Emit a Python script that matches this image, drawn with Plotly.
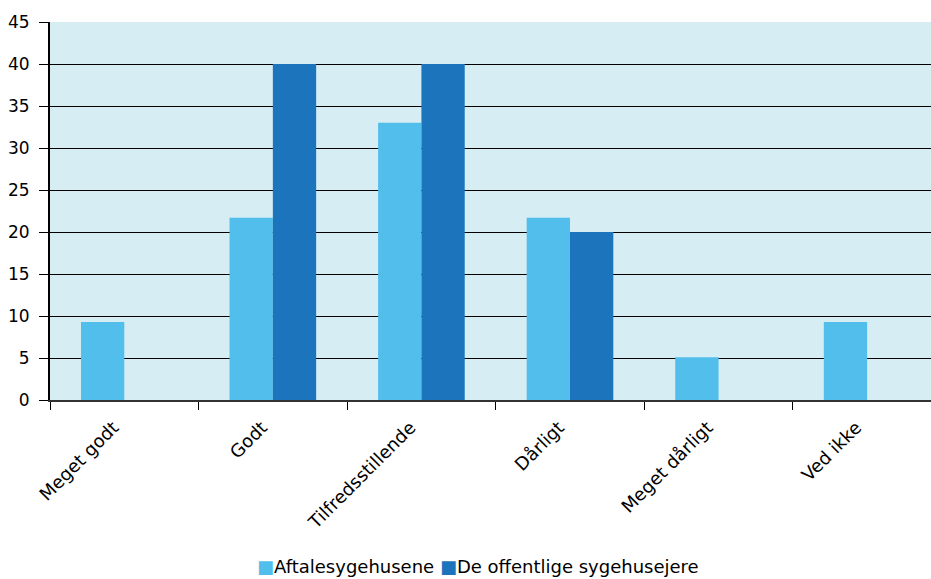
import plotly.graph_objects as go

categories = ["Meget godt", "Godt", "Tilfredsstillende", "Dårligt", "Meget dårligt", "Ved ikke"]
aftalesygehusene = [9.3, 21.7, 33.0, 21.7, 5.1, 9.3]
offentlige_ejere = [0, 40, 40, 20, 0, 0]
series_names = ["Aftalesygehusene", "De offentlige sygehusejere"]

LIGHT = "#52BEEC"
DARK = "#1C75BC"
FONT = "DejaVu Sans"

fig = go.Figure()
fig.add_trace(go.Bar(name=series_names[0], x=categories, y=aftalesygehusene,
                     marker=dict(color=LIGHT, line=dict(width=0))))
fig.add_trace(go.Bar(name=series_names[1], x=categories, y=offentlige_ejere,
                     marker=dict(color=DARK, line=dict(width=0))))

# compact legend: coloured squares right next to the series names
legend_text = (
    f"<span style='color:{LIGHT}'>■</span>{series_names[0]} "
    f"<span style='color:{DARK}'>■</span>{series_names[1]}"
)
fig.add_annotation(
    text=legend_text, xref="paper", yref="paper",
    x=0.486, xanchor="center", y=-0.44, yanchor="middle",
    showarrow=False, font=dict(family=FONT, size=18, color="black"),
)

fig.update_layout(
    width=931, height=579,
    margin=dict(l=50, r=0, t=22, b=179),
    paper_bgcolor="white",
    plot_bgcolor="#D5EDF3",
    barmode="group",
    bargap=0.417,
    bargroupgap=0,
    font=dict(family=FONT, size=15, color="black"),
    showlegend=False,
)
fig.update_xaxes(
    type="category",
    range=[-0.5, 5.43],
    automargin=False,
    tickangle=-45,
    ticks="outside", ticklen=8, tickcolor="black", tickwidth=1,
    tickson="boundaries",
    ticklabelstandoff=8,
    ticklabelshift=-11,
    showline=True, linecolor="#333333", linewidth=2,
    showgrid=False,
    tickfont=dict(family=FONT, size=18),
)
fig.update_yaxes(
    range=[0, 45], dtick=5,
    automargin=False,
    ticks="outside", ticklen=9, tickcolor="black", tickwidth=1,
    ticklabelstandoff=6,
    showline=True, linecolor="black", linewidth=2,
    showgrid=True, gridcolor="black", gridwidth=1.2,
    zeroline=False,
    tickfont=dict(family=FONT, size=17),
)

fig.write_html("out.html")
